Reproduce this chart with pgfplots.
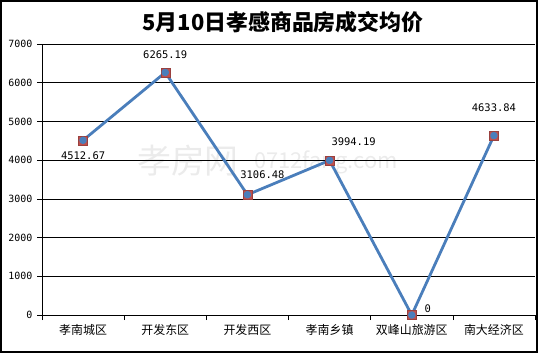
\documentclass[border=0pt]{standalone}
\usepackage{pgfplots}
\pgfplotsset{compat=1.18}
\usepackage{pgfplotstable}
\usepackage{fontspec}
\setmainfont{Noto Sans CJK SC}
\newfontfamily\monofont{DejaVu Sans Mono}
\definecolor{lineblue}{HTML}{4A7EBB}
\definecolor{mkred}{HTML}{C0504D}
\pgfplotstableread{
x y dx dy
0 4512.67 0 -15
1 6265.19 0 18
2 3106.48 15 20
3 3994.19 24 19
4 0 16 6
5 4633.84 0 28
}\pricedata
\begin{document}
\begin{tikzpicture}[x=1bp,y=1bp]
\useasboundingbox (0,0) rectangle (538,353);
\draw[line width=1.6bp] (0.8,0.8) rectangle (537.2,352.2);
\node[font=\bfseries\fontsize{22}{22}\selectfont] at (283,331) {5月10日孝感商品房成交均价};
\node[text=gray!16, font=\fontsize{34}{34}\selectfont] at (188,192) {孝房网};
\node[text=gray!16, font=\fontsize{22}{22}\selectfont] at (326,191) {0712fang.com};
\begin{axis}[
  at={(42bp,38bp)}, anchor=south west,
  scale only axis, width=493bp, height=271bp,
  xmin=-0.5, xmax=5.5, ymin=0, ymax=7000,
  ytick={0,1000,...,7000},
  ymajorgrids, grid style={black, line width=0.6bp},
  axis x line*=bottom, axis y line*=left,
  axis line style={black, line width=0.8bp, -},
  xtick={0,...,5},
  xticklabels={孝南城区,开发东区,开发西区,孝南乡镇,双峰山旅游区,南大经济区},
  major x tick style={draw=none},
  minor xtick={-0.5,0.5,1.5,2.5,3.5,4.5,5.5},
  minor x tick style={black, line width=0.6bp},
  tick align=outside,
  major tick length=5bp, minor tick length=5bp,
  major y tick style={black, line width=0.6bp},
  tick label style={black},
  xticklabel style={font=\fontsize{12}{12}\selectfont, yshift=-1bp},
  yticklabel style={font=\monofont\fontsize{10}{10}\selectfont, /pgf/number format/1000 sep={}, xshift=-1bp},
  /pgf/number format/assume math mode=true,
  scaled y ticks=false,
  clip=false,
]
\addplot[only marks, mark=square*, mark size=4.5bp, mark options={fill=mkred, draw=mkred!80!black, line width=0.4bp}] table[x=x,y=y] {\pricedata};
\addplot[lineblue, line width=2.8bp, line join=round, mark=*, mark size=2.3bp, mark options={fill=lineblue, draw=lineblue},
  nodes near coords, point meta=explicit symbolic,
  visualization depends on={\thisrow{dx} \as \dx},
  visualization depends on={\thisrow{dy} \as \dy},
  every node near coord/.append style={anchor=center, xshift=\dx bp, yshift=\dy bp, text=black, font=\monofont\fontsize{10.5}{10.5}\selectfont}
] table[x=x,y=y,meta=y] {\pricedata};
\end{axis}
\end{tikzpicture}
\end{document}
